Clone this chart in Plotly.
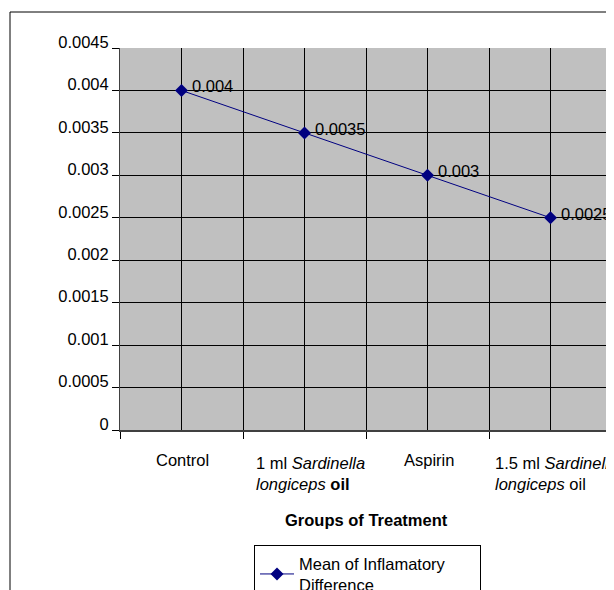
import plotly.graph_objects as go

categories = [
    "Control",
    "1 ml <i>Sardinella</i><br><i>longiceps</i> <b>oil</b>",
    "Aspirin",
    "1.5 ml <i>Sardinella</i><br><i>longiceps</i> oil",
]
values = [0.004, 0.0035, 0.003, 0.0025]
value_labels = ["0.004", "0.0035", "0.003", "0.0025"]
y_ticks = [0, 0.0005, 0.001, 0.0015, 0.002, 0.0025, 0.003, 0.0035, 0.004, 0.0045]
y_tick_labels = ["0", "0.0005", "0.001", "0.0015", "0.002", "0.0025", "0.003", "0.0035", "0.004", "0.0045"]
series_name = "Mean of Inflamatory<br>Difference"
x_title = "<b>Groups of Treatment</b>"

FONT = "Arial, Liberation Sans, sans-serif"
FS = 16.5
NAVY = "#000080"

xs = list(range(len(categories)))

fig = go.Figure()
fig.add_trace(go.Scatter(
    x=xs, y=values, mode="lines+markers", name=series_name,
    line=dict(color=NAVY, width=1),
    marker=dict(symbol="diamond", size=10, color=NAVY),
))

annotations = []
for xi, v, t in zip(xs, values, value_labels):
    annotations.append(dict(x=xi, y=v, xref="x", yref="y", text=t, showarrow=False,
                            xanchor="left", yanchor="middle", xshift=8, yshift=4,
                            font=dict(family=FONT, size=FS, color="black")))
for xi, c in zip(xs, categories):
    two = "<br>" in c
    annotations.append(dict(x=xi, y=0, xref="x", yref="y", text=c, showarrow=False,
                            xanchor="center", yanchor="top", align="left",
                            xshift=6 if two else 1, yshift=-22 if two else -19,
                            font=dict(family=FONT, size=FS, color="black")))
annotations.append(dict(x=0.5, y=0, xref="paper", yref="paper", text=x_title, showarrow=False,
                        xanchor="center", yanchor="middle", yshift=-90,
                        font=dict(family=FONT, size=FS, color="black")))

fig.update_layout(
    width=606, height=582,
    margin=dict(l=112, r=2, t=40, b=160, autoexpand=False),
    paper_bgcolor="white", plot_bgcolor="#C0C0C0",
    font=dict(family=FONT, size=FS, color="black"),
    showlegend=True,
    legend=dict(x=(254 - 120) / 492, y=(430 - 545) / 382, xanchor="left", yanchor="top",
                orientation="h", entrywidth=176, entrywidthmode="pixels",
                bordercolor="black", borderwidth=1, bgcolor="white",
                font=dict(family=FONT, size=FS, color="black"), itemwidth=34),
    annotations=annotations,
    shapes=[dict(type="rect", xref="paper", yref="paper",
                 x0=-110 / 492, x1=1.02, y0=-0.45, y1=(430 - 12) / 382,
                 line=dict(color="black", width=1), fillcolor="rgba(0,0,0,0)", layer="below")],
)
fig.update_xaxes(
    range=[-0.5, len(categories) - 0.5], tickmode="linear", tick0=-0.5, dtick=1,
    ticks="outside", ticklen=7, tickcolor="black", showticklabels=False,
    showgrid=True, gridcolor="black", gridwidth=1,
    minor=dict(tick0=0, dtick=0.5, showgrid=True, gridcolor="black", gridwidth=1, ticks=""),
    showline=True, linecolor="#404040", linewidth=2, zeroline=False, fixedrange=True,
)
fig.update_yaxes(
    range=[0, 0.0045], tickmode="array", tickvals=y_ticks, ticktext=y_tick_labels,
    ticks="outside", ticklen=7, tickcolor="black", ticklabelshift=-6, ticklabelstandoff=0,
    showgrid=True, gridcolor="black", gridwidth=1,
    showline=True, linecolor="#404040", linewidth=1, zeroline=False, fixedrange=True,
)

fig.write_html("out.html")
